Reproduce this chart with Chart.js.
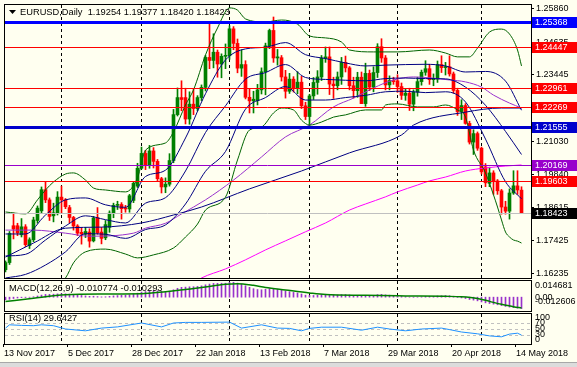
<!DOCTYPE html>
<html>
<head>
<meta charset="utf-8">
<script src="https://cdn.jsdelivr.net/npm/chart.js@4.4.0/dist/chart.umd.min.js"></script>
<style>
  body { margin: 0; background: #fffff0; }
  #wrap { position: relative; width: 577px; height: 367px; background: #fffff0; overflow: hidden; }
  #wrap canvas { position: absolute; left: 0; top: 0; }
  #edge { position: absolute; left: 0; top: 362px; width: 577px; height: 5px; background: #dcdcdc; border-top: 1px solid #a8a8a8; box-sizing: border-box; }
</style>
</head>
<body>
<div id="wrap">
  <canvas id="mainChart" width="577" height="367"></canvas>
  <canvas id="macdChart" width="577" height="367"></canvas>
  <canvas id="rsiChart" width="577" height="367"></canvas>
  <div id="edge"></div>
</div>
<script>
// EURUSD daily, 13 Nov 2017 .. 15 May 2018 (130 bars)
const opens = [1.1636,1.1662,1.1796,1.1796,1.1763,1.1792,1.1724,1.1745,1.1815,1.1850,
  1.1927,1.1890,1.1832,1.1843,1.1900,1.1890,1.1862,1.1826,1.1795,1.1772,
  1.1765,1.1773,1.1741,1.1825,1.1773,1.1752,1.1790,1.1840,1.1870,1.1873,
  1.1860,1.1857,1.1888,1.1940,1.2005,1.2059,1.2015,1.2068,1.2030,1.1967,
  1.1937,1.1947,1.2033,1.2200,1.2262,1.2262,1.2184,1.2238,1.2222,1.2262,
  1.2299,1.2408,1.2397,1.2427,1.2384,1.2412,1.2414,1.2512,1.2459,1.2369,
  1.2382,1.2263,1.2250,1.2251,1.2290,1.2356,1.2450,1.2506,1.2406,1.2407,
  1.2337,1.2285,1.2329,1.2295,1.2318,1.2232,1.2193,1.2268,1.2317,1.2337,
  1.2405,1.2410,1.2311,1.2305,1.2337,1.2390,1.2370,1.2305,1.2287,1.2336,
  1.2240,1.2350,1.2300,1.2353,1.2447,1.2406,1.2308,1.2324,1.2323,1.2302,
  1.2270,1.2278,1.2238,1.2282,1.2320,1.2354,1.2367,1.2327,1.2329,1.2382,
  1.2371,1.2374,1.2348,1.2288,1.2211,1.2233,1.2168,1.2100,1.2131,1.2078,
  1.2010,1.1950,1.1988,1.1959,1.1923,1.1864,1.1849,1.1915,1.1941,1.19254];
const highs = [1.1668,1.1775,1.1842,1.1805,1.1822,1.1800,1.1752,1.1827,1.1868,1.1937,
  1.1955,1.1897,1.1878,1.1920,1.1940,1.1895,1.1870,1.1830,1.1800,1.1790,
  1.1790,1.1785,1.1830,1.1862,1.1790,1.1815,1.1850,1.1878,1.1885,1.1880,
  1.1870,1.1910,1.1955,1.2023,1.2082,1.2070,1.2088,1.2080,1.2037,1.1972,
  1.1970,1.2058,1.2219,1.2297,1.2323,1.2296,1.2283,1.2295,1.2269,1.2308,
  1.2415,1.2537,1.2494,1.2435,1.2421,1.2457,1.2523,1.2520,1.2475,1.2436,
  1.2396,1.2294,1.2285,1.2310,1.2370,1.2460,1.2511,1.2555,1.2437,1.2415,
  1.2361,1.2350,1.2338,1.2356,1.2339,1.2245,1.2274,1.2335,1.2360,1.2415,
  1.2446,1.2446,1.2336,1.2355,1.2408,1.2413,1.2375,1.2336,1.2354,1.2355,
  1.2387,1.2362,1.2374,1.2458,1.2476,1.2415,1.2341,1.2336,1.2345,1.2315,
  1.2292,1.2296,1.2290,1.2336,1.2362,1.2396,1.2383,1.2348,1.2395,1.2414,
  1.2390,1.2414,1.2355,1.2296,1.2254,1.2240,1.2176,1.2145,1.2137,1.2082,
  1.2022,1.2009,1.1996,1.1964,1.1928,1.1885,1.1930,1.1996,1.1996,1.19377];
const lows = [1.1628,1.1655,1.1748,1.1760,1.1755,1.1720,1.1713,1.1738,1.1805,1.1843,
  1.1880,1.1815,1.1810,1.1835,1.1842,1.1858,1.1806,1.1780,1.1760,1.1729,
  1.1753,1.1718,1.1737,1.1765,1.1730,1.1745,1.1772,1.1825,1.1855,1.1820,
  1.1845,1.1845,1.1880,1.1935,1.2002,1.2000,1.2005,1.2006,1.1960,1.1915,
  1.1916,1.1940,1.2025,1.2195,1.2214,1.2166,1.2165,1.2200,1.2214,1.2251,
  1.2286,1.2367,1.2370,1.2336,1.2334,1.2367,1.2401,1.2436,1.2352,1.2339,
  1.2257,1.2206,1.2206,1.2235,1.2275,1.2272,1.2440,1.2390,1.2380,1.2322,
  1.2260,1.2277,1.2282,1.2276,1.2222,1.2182,1.2155,1.2255,1.2274,1.2324,
  1.2390,1.2273,1.2259,1.2290,1.2310,1.2355,1.2290,1.2260,1.2263,1.2240,
  1.2230,1.2287,1.2283,1.2335,1.2390,1.2290,1.2290,1.2310,1.2281,1.2255,
  1.2252,1.2215,1.2214,1.2267,1.2307,1.2343,1.2310,1.2305,1.2317,1.2353,
  1.2344,1.2340,1.2278,1.2197,1.2182,1.2165,1.2093,1.2055,1.2070,1.1984,
  1.1938,1.1938,1.1910,1.1910,1.1838,1.1838,1.1820,1.1910,1.1910,1.18420];
const closes = [1.1662,1.1768,1.1784,1.1770,1.1792,1.1727,1.1745,1.1817,1.1860,1.1927,
  1.1890,1.1830,1.1843,1.1900,1.1890,1.1865,1.1826,1.1795,1.1769,1.1766,
  1.1775,1.1740,1.1824,1.1770,1.1750,1.1800,1.1842,1.1870,1.1873,1.1858,
  1.1857,1.1905,1.1950,1.2005,1.2059,1.2015,1.2068,1.2030,1.1967,1.1937,
  1.1947,1.2033,1.2200,1.2262,1.2255,1.2184,1.2238,1.2222,1.2262,1.2299,
  1.2408,1.2397,1.2427,1.2384,1.2412,1.2414,1.2512,1.2459,1.2369,1.2382,
  1.2263,1.2250,1.2256,1.2290,1.2356,1.2450,1.2506,1.2406,1.2410,1.2337,
  1.2285,1.2329,1.2295,1.2318,1.2232,1.2193,1.2268,1.2317,1.2337,1.2405,
  1.2410,1.2311,1.2305,1.2337,1.2390,1.2370,1.2305,1.2287,1.2336,1.2240,
  1.2350,1.2300,1.2353,1.2447,1.2406,1.2308,1.2324,1.2320,1.2302,1.2270,
  1.2278,1.2238,1.2282,1.2320,1.2354,1.2367,1.2327,1.2332,1.2382,1.2371,
  1.2374,1.2348,1.2288,1.2211,1.2233,1.2168,1.2100,1.2131,1.2078,1.1992,
  1.1952,1.1988,1.1959,1.1923,1.1864,1.1849,1.1915,1.1941,1.1926,1.18423];

// indicator lines, [bar, value] read at intervals along each curve
const bbUpper = [[0,1.1846],[5,1.1839],[8,1.1890],[10,1.1926],[12,1.1955],[15,1.1984],[17,1.1988],[20,1.1962],
  [22,1.1933],[25,1.1926],[30,1.1919],[33,1.1970],[35,1.2071],[40,1.2097],[42,1.2137],[45,1.2235],[47,1.2290],
  [50,1.2417],[53,1.2515],[56,1.2588],[58,1.2580],[60,1.2548],[65,1.2537],[69,1.2544],[73,1.2529],[76,1.2486],
  [80,1.2479],[84,1.2464],[86,1.2435],[92,1.2428],[98,1.2428],[106,1.2435],[110,1.2424],[113,1.2410],[116,1.2410],
  [118,1.2442],[121,1.2500],[124,1.2511],[126,1.2493],[128,1.2435],[129,1.2377]];
const bbLower = [[0,1.1526],[10,1.1562],[15,1.1606],[17,1.1661],[20,1.1701],[25,1.1711],[30,1.1693],[33,1.1679],
  [37,1.1690],[42,1.1715],[45,1.1755],[48,1.1802],[50,1.1853],[55,1.1900],[58,1.2035],[61,1.2144],[64,1.2155],
  [67,1.2206],[69,1.2224],[72,1.2217],[74,1.2180],[76,1.2162],[79,1.2173],[82,1.2191],[85,1.2199],[90,1.2217],
  [94,1.2217],[95,1.2235],[98,1.2239],[103,1.2228],[107,1.2228],[110,1.2235],[113,1.2217],[115,1.2191],[117,1.2071],
  [120,1.1988],[122,1.1908],[123,1.1864],[124,1.1817],[125,1.1773],[126,1.1755],[127,1.1744],[128,1.1740],[129,1.1733]];
const bandMid = [[0,1.1686],[5,1.1692],[10,1.1744],[15,1.1795],[20,1.1832],[25,1.1818],[30,1.1806],[35,1.1878],
  [40,1.1898],[45,1.1995],[50,1.2135],[55,1.2232],[60,1.2329],[65,1.2353],[70,1.2382],[75,1.2335],[80,1.2328],
  [85,1.2325],[90,1.2323],[95,1.2331],[100,1.2333],[105,1.2331],[110,1.2330],[115,1.2300],[120,1.2234],[125,1.2139],[129,1.2055]];
const bandInnerUp = [[0,1.1766],[5,1.1766],[10,1.1835],[15,1.1890],[20,1.1897],[25,1.1872],[30,1.1863],[35,1.1975],
  [40,1.1998],[45,1.2115],[50,1.2276],[55,1.2399],[60,1.2439],[65,1.2445],[70,1.2462],[75,1.2418],[80,1.2404],
  [85,1.2388],[90,1.2377],[95,1.2380],[100,1.2382],[105,1.2383],[110,1.2377],[115,1.2355],[120,1.2357],[125,1.2322],[129,1.2216]];
const bandInnerDn = [[0,1.1606],[5,1.1619],[10,1.1653],[15,1.1701],[20,1.1767],[25,1.1765],[30,1.1750],[35,1.1782],
  [40,1.1799],[45,1.1875],[50,1.1994],[55,1.2066],[60,1.2220],[65,1.2262],[70,1.2302],[75,1.2253],[80,1.2253],
  [85,1.2262],[90,1.2270],[95,1.2283],[100,1.2285],[105,1.2280],[110,1.2283],[115,1.2246],[120,1.2111],[125,1.1956],[129,1.1894]];
const ma50 = [[0,1.1780],[7,1.1780],[15,1.1769],[21,1.1758],[32,1.1769],[35,1.1787],[40,1.1805],[44,1.1839],
  [50,1.1890],[57,1.1962],[64,1.2046],[70,1.2119],[76,1.2162],[82,1.2228],[87,1.2260],[92,1.2297],[97,1.2326],
  [102,1.2337],[111,1.2326],[115,1.2319],[119,1.2300],[122,1.2271],[126,1.2242],[129,1.2224]];
const ma100 = [[0,1.1682],[7,1.1733],[15,1.1787],[24,1.1791],[34,1.1806],[42,1.1835],[49,1.1864],[61,1.1930],
  [74,1.1995],[86,1.2061],[99,1.2126],[102,1.2162],[115,1.2209],[124,1.2224],[129,1.2224]];
const ma200 = [[44,1.1560],[49,1.1606],[55,1.1639],[60,1.1672],[65,1.1708],[70,1.1741],[75,1.1774],[80,1.1806],
  [86,1.1853],[90,1.1875],[95,1.1901],[98,1.1919],[103,1.1944],[106,1.1959],[110,1.1973],[115,1.1995],[120,1.2006],
  [125,1.2013],[129,1.2017]];

const macdMain = [-0.0025,-0.0020,-0.0013,-0.0008,-0.0004,-0.0003,-0.0002,0.0004,0.0011,0.0020,
  0.0026,0.0027,0.0028,0.0031,0.0033,0.0032,0.0029,0.0025,0.0020,0.0016,
  0.0012,0.0008,0.0009,0.0006,0.0003,0.0004,0.0008,0.0012,0.0015,0.0017,
  0.0019,0.0023,0.0029,0.0038,0.0048,0.0053,0.0059,0.0061,0.0059,0.0055,
  0.0053,0.0057,0.0070,0.0084,0.0093,0.0095,0.0098,0.0099,0.0102,0.0107,
  0.0117,0.0124,0.0130,0.0131,0.0132,0.0132,0.0140,0.0141,0.0133,0.0124,
  0.0108,0.0093,0.0080,0.0072,0.0070,0.0074,0.0081,0.0079,0.0076,0.0068,
  0.0058,0.0052,0.0045,0.0040,0.0030,0.0019,0.0016,0.0016,0.0018,0.0024,
  0.0028,0.0024,0.0021,0.0021,0.0024,0.0025,0.0021,0.0017,0.0017,0.0010,
  0.0013,0.0012,0.0015,0.0024,0.0027,0.0022,0.0019,0.0016,0.0012,0.0007,
  0.0004,0.0000,-0.0001,0.0000,0.0003,0.0007,0.0007,0.0008,0.0011,0.0013,
  0.0015,0.0014,0.0009,-0.0002,-0.0007,-0.0013,-0.0022,-0.0028,-0.0035,-0.0045,
  -0.0054,-0.0060,-0.0066,-0.0072,-0.0080,-0.0088,-0.0094,-0.0099,-0.0104,-0.010774];
const macdSignal = [[0,-0.0042],[7,-0.0010],[15,0.0022],[24,0.0030],[34,0.0032],[40,0.0052],[49,0.0092],
  [55,0.0122],[58,0.0128],[62,0.0112],[65,0.0092],[70,0.0068],[76,0.0040],[80,0.0025],[90,0.0017],[100,0.0012],
  [110,0.0008],[114,0.0004],[118,-0.0012],[121,-0.0040],[124,-0.0068],[127,-0.0090],[129,-0.010293]];
const macdScaleLabels = [0.014681, 0.00, -0.012606];

const rsi = [[0,53],[1,64],[4,62],[7,61],[9,64],[12,61],[15,50],[20,44],[24,53],[28,57],[34,70],[39,57],
  [42,70],[45,72],[49,72],[56,73],[59,53],[64,64],[68,53],[71,52],[74,44],[76,52],[79,56],[84,56],[89,46],
  [93,56],[96,50],[100,44],[104,50],[109,53],[111,48],[114,40],[118,34],[121,27],[124,24],[126,33],[128,36],[129,29.6427]];
const rsiLevels = [70, 50, 30];
const rsiScaleLabels = [100, 70, 50, 30, 0];

const priceTicks = [1.25860,1.24635,1.23445,1.22255,1.21030,1.19840,1.18615,1.17425,1.16235];
const levelPrices = [1.25368, 1.24447, 1.22961, 1.22269, 1.21555, 1.20169, 1.19603];
const bidPrice = 1.18423;
const dateLabels = ['13 Nov 2017','5 Dec 2017','28 Dec 2017','22 Jan 2018','13 Feb 2018','7 Mar 2018','29 Mar 2018','20 Apr 2018','14 May 2018'];
const dateLabelBars = [0,16,32,48,64,80,96,112,128];
const monthStartBars = [14,34,56,76,98,119];

// ---- styles ----
const levelColors = ['#0000ff','#ff0000','#ff0000','#ff0000','#0000cc','#9900cc','#ff0000'];
const levelWidths = [3,1,1,1,3,1,1];
const UP = '#008000', DOWN = '#ff0000';
const FONT = 'Liberation Sans';
const font9 = { family: FONT, size: 9 };

const xMin = -0.375, xMax = 131.375;   // 4 px per bar, first bar at x=5.5
const pMax = 1.260225, pMin = 1.160589;

Chart.defaults.font.family = FONT;
Chart.defaults.animation = false;
Chart.defaults.responsive = false;
Chart.defaults.plugins.legend.display = false;
Chart.defaults.plugins.tooltip.enabled = false;

const pts = arr => arr.map(([x, y]) => ({ x, y }));
const candleColors = closes.map((c, i) => c >= opens[i] ? UP : DOWN);

function lineSet(data, color, width) {
  return { type: 'line', data: pts(data), borderColor: color, borderWidth: width || 1,
    pointRadius: 0, cubicInterpolationMode: 'monotone', order: 1 };
}

const barAxisX = { type: 'linear', min: xMin, max: xMax, offset: false, display: false };

// border + dashed month separators, shared by all panels
function panelPlugin(top, bottom) {
  return {
    id: 'panel',
    beforeDatasetsDraw(chart) {
      const ctx = chart.ctx, xs = chart.scales.x;
      ctx.save();
      ctx.strokeStyle = '#000';
      ctx.lineWidth = 1;
      ctx.setLineDash([3, 3]);
      monthStartBars.forEach(b => {
        const x = Math.floor(xs.getPixelForValue(b)) + 0.5;
        ctx.beginPath(); ctx.moveTo(x, top + 1); ctx.lineTo(x, bottom); ctx.stroke();
      });
      ctx.restore();
    },
    afterDraw(chart) {
      const ctx = chart.ctx;
      ctx.save();
      ctx.strokeStyle = '#000';
      ctx.lineWidth = 1;
      ctx.strokeRect(4.5, top + 0.5, 527, bottom - top);
      ctx.restore();
    }
  };
}

function tagBox(ctx, y, color, text) {
  ctx.fillStyle = color;
  ctx.fillRect(532, Math.round(y) - 5, 45, 11);
  ctx.fillStyle = '#fff';
  ctx.textBaseline = 'middle';
  ctx.textAlign = 'left';
  ctx.fillText(text, 535, Math.round(y) + 0.5);
}

const mainOverlay = {
  id: 'mainOverlay',
  afterDatasetsDraw(chart) {
    const ctx = chart.ctx, ys = chart.scales.y, a = chart.chartArea;
    ctx.save();
    let y = Math.round(ys.getPixelForValue(bidPrice)) + 0.5;
    ctx.strokeStyle = '#c0c0c0'; ctx.lineWidth = 1;
    ctx.beginPath(); ctx.moveTo(a.left, y); ctx.lineTo(a.right, y); ctx.stroke();
    levelPrices.forEach((p, i) => {
      const w = levelWidths[i];
      const yy = Math.round(ys.getPixelForValue(p)) + (w % 2 ? 0.5 : 0);
      ctx.strokeStyle = levelColors[i]; ctx.lineWidth = w;
      ctx.beginPath(); ctx.moveTo(a.left, yy); ctx.lineTo(a.right, yy); ctx.stroke();
    });
    ctx.restore();
  },
  afterDraw(chart) {
    const ctx = chart.ctx, ys = chart.scales.y;
    ctx.save();
    ctx.font = '9px "' + FONT + '"';
    levelPrices.forEach((p, i) => tagBox(ctx, ys.getPixelForValue(p), levelColors[i], p.toFixed(5)));
    tagBox(ctx, ys.getPixelForValue(bidPrice), '#000', bidPrice.toFixed(5));
    ctx.fillStyle = '#000';
    ctx.beginPath(); ctx.moveTo(9, 10); ctx.lineTo(16, 10); ctx.lineTo(12.5, 14); ctx.closePath(); ctx.fill();
    ctx.font = '9.3px "' + FONT + '"';
    ctx.textBaseline = 'middle';
    ctx.fillText('EURUSD,Daily  ' + [opens[129], highs[129], lows[129], closes[129]].map(v => v.toFixed(5)).join(' '), 20, 12.5);
    ctx.restore();
  }
};

new Chart(document.getElementById('mainChart'), {
  type: 'bar',
  data: {
    datasets: [
      lineSet(bbUpper, '#006400'),
      lineSet(bbLower, '#006400'),
      lineSet(bandInnerUp, '#000080'),
      lineSet(bandMid, '#000080'),
      lineSet(bandInnerDn, '#000080'),
      lineSet(ma100, '#000080'),
      lineSet(ma50, '#9932cc'),
      lineSet(ma200, '#ff00ff'),
      { type: 'bar', data: lows.map((l, i) => ({ x: i, y: [l, highs[i]] })), backgroundColor: candleColors,
        barThickness: 1, grouped: false, order: 3 },
      { type: 'bar', data: opens.map((o, i) => ({ x: i, y: [o, closes[i]] })), backgroundColor: candleColors,
        barThickness: 3, minBarLength: 1, grouped: false, order: 2 }
    ]
  },
  options: {
    events: [],
    layout: { padding: { left: 4, top: 4, right: 0, bottom: 89 } },
    scales: {
      x: barAxisX,
      y: {
        position: 'right', min: pMin, max: pMax,
        afterFit(s) { s.width = 46; s.paddingTop = 0; s.paddingBottom = 0; },
        afterBuildTicks(s) { s.ticks = priceTicks.map(v => ({ value: v })); },
        ticks: { font: font9, color: '#000', padding: 2, callback: v => v.toFixed(5) },
        grid: { drawOnChartArea: false, tickLength: 3, color: '#000' },
        border: { display: false }
      }
    }
  },
  plugins: [panelPlugin(4, 278), mainOverlay]
});

const macdOverlay = {
  id: 'macdOverlay',
  afterDraw(chart) {
    const ctx = chart.ctx, ys = chart.scales.y;
    ctx.save();
    ctx.fillStyle = '#000';
    ctx.font = '9.3px "' + FONT + '"';
    ctx.textBaseline = 'middle';
    ctx.fillText('MACD(12,26,9) ' + macdMain[129].toFixed(6) + ' ' + macdSignal[macdSignal.length - 1][1].toFixed(6), 9, 288);
    ctx.font = '9px "' + FONT + '"';
    ctx.textBaseline = 'top';
    ctx.fillText(macdScaleLabels[0].toFixed(6), 535, 281);
    ctx.textBaseline = 'middle';
    ctx.fillText(macdScaleLabels[1].toFixed(2), 535, ys.getPixelForValue(0));
    ctx.textBaseline = 'bottom';
    ctx.fillText(macdScaleLabels[2].toFixed(6), 535, 306);
    ctx.restore();
  }
};

new Chart(document.getElementById('macdChart'), {
  type: 'bar',
  data: {
    datasets: [
      { type: 'line', data: pts(macdSignal), borderColor: '#008000', borderWidth: 1.5, pointRadius: 0,
        cubicInterpolationMode: 'monotone', order: 1 },
      { type: 'bar', data: macdMain.map((v, i) => ({ x: i, y: v })), backgroundColor: '#9932cc',
        barThickness: 1, grouped: false, order: 2 }
    ]
  },
  options: {
    events: [],
    layout: { padding: { left: 4, top: 281, right: 46, bottom: 56 } },
    scales: {
      x: barAxisX,
      y: { min: -0.0131, max: 0.0153, display: false }
    }
  },
  plugins: [panelPlugin(280, 311), macdOverlay]
});

const rsiOverlay = {
  id: 'rsiOverlay',
  beforeDatasetsDraw(chart) {
    const ctx = chart.ctx, ys = chart.scales.y, a = chart.chartArea;
    ctx.save();
    ctx.strokeStyle = '#c0c0c0'; ctx.lineWidth = 1; ctx.setLineDash([3, 3]);
    rsiLevels.forEach(l => {
      const y = Math.round(ys.getPixelForValue(l)) + 0.5;
      ctx.beginPath(); ctx.moveTo(a.left + 1, y); ctx.lineTo(a.right, y); ctx.stroke();
    });
    ctx.restore();
  },
  afterDraw(chart) {
    const ctx = chart.ctx, ys = chart.scales.y;
    ctx.save();
    ctx.fillStyle = '#000';
    ctx.font = '9.3px "' + FONT + '"';
    ctx.textBaseline = 'middle';
    ctx.fillText('RSI(14) ' + rsi[rsi.length - 1][1].toFixed(4), 9, 318);
    ctx.font = '9px "' + FONT + '"';
    rsiScaleLabels.forEach(v => {
      let y = ys.getPixelForValue(v);
      if (v === 100) y += 4;
      if (v === 0) y -= 4;
      ctx.fillText(String(v), 535, y);
    });
    ctx.restore();
  }
};

new Chart(document.getElementById('rsiChart'), {
  type: 'line',
  data: {
    datasets: [
      { data: pts(rsi), borderColor: '#1e90ff', borderWidth: 1, pointRadius: 0, tension: 0 }
    ]
  },
  options: {
    events: [],
    layout: { padding: { left: 4, top: 314, right: 46, bottom: 0 } },
    scales: {
      x: {
        type: 'linear', min: xMin, max: xMax, offset: false,
        afterFit(s) { s.height = 23; s.paddingLeft = 0; s.paddingRight = 0; },
        afterBuildTicks(s) { s.ticks = dateLabelBars.map(v => ({ value: v - 0.4 })); },
        ticks: { autoSkip: false, maxRotation: 0, align: 'start', font: font9, color: '#000', padding: 1,
          callback: (v, i) => dateLabels[i] },
        grid: { drawOnChartArea: false, tickLength: 3, color: '#000' },
        border: { display: false }
      },
      y: { min: 0, max: 100, display: false }
    }
  },
  plugins: [panelPlugin(313, 344), rsiOverlay]
});
</script>
</body>
</html>
